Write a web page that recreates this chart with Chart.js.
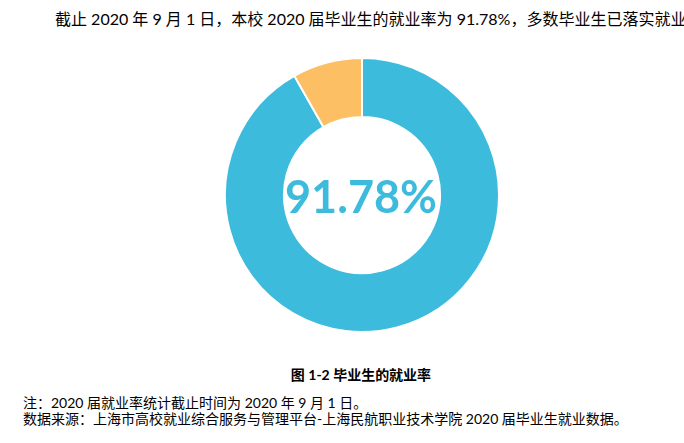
<!DOCTYPE html>
<html>
<head>
<meta charset="utf-8">
<script src="https://cdn.jsdelivr.net/npm/chart.js@4"></script>
<style>
  body { margin: 0; background: #fff; width: 684px; height: 443px; position: relative; overflow: hidden;
         font-family: "Lato", "Noto Sans CJK SC", sans-serif; color: #000; }
  .txt { position: absolute; white-space: nowrap; }
  #intro { left: 55px; top: 8px; font-size: 16px; line-height: 22px; }
  #wrap { position: absolute; left: 222px; top: 55px; width: 280px; height: 280px; }
  #center { position: absolute; left: 221px; top: 168px; width: 280px; text-align: center;
            font-size: 45px; font-weight: bold; color: #3DBBDC; line-height: 56px; }
  #caption { left: 0; width: 722px; text-align: center; top: 366px; font-size: 14px; font-weight: bold; line-height: 18px; }
  #note1 { left: 23px; top: 393px; font-size: 14px; line-height: 20px; }
  #note2 { left: 23px; top: 409px; font-size: 14px; line-height: 20px; }
</style>
</head>
<body>
<div class="txt" id="intro">截止 2020 年 9 月 1 日，本校 2020 届毕业生的就业率为 91.78%，多数毕业生已落实就业</div>
<div id="wrap"><canvas id="donut"></canvas></div>
<div class="txt" id="center"></div>
<div class="txt" id="caption">图 1-2 毕业生的就业率</div>
<div class="txt" id="note1">注：2020 届就业率统计截止时间为 2020 年 9 月 1 日。</div>
<div class="txt" id="note2">数据来源：上海市高校就业综合服务与管理平台-上海民航职业技术学院 2020 届毕业生就业数据。</div>
<script>
// données du graphique
const labels = ["已就业", "未就业"]
const values = [91.78, 8.22]
const colors = ["#3DBBDC", "#FDBF63"]

document.getElementById("center").textContent = values[0].toFixed(2) + "%"

const ctx = document.getElementById("donut").getContext("2d")
new Chart(ctx, {
  type: "doughnut",
  data: {
    labels: labels,
    datasets: [
      {
        data: values,
        backgroundColor: colors,
        borderColor: "#ffffff",
        borderWidth: 2,
      },
    ],
  },
  options: {
    responsive: true,
    maintainAspectRatio: false,
    animation: false,
    cutout: "57%",
    layout: { padding: 2 },
    plugins: {
      legend: { display: false },
      tooltip: { enabled: false },
    },
  },
})
</script>
</body>
</html>
